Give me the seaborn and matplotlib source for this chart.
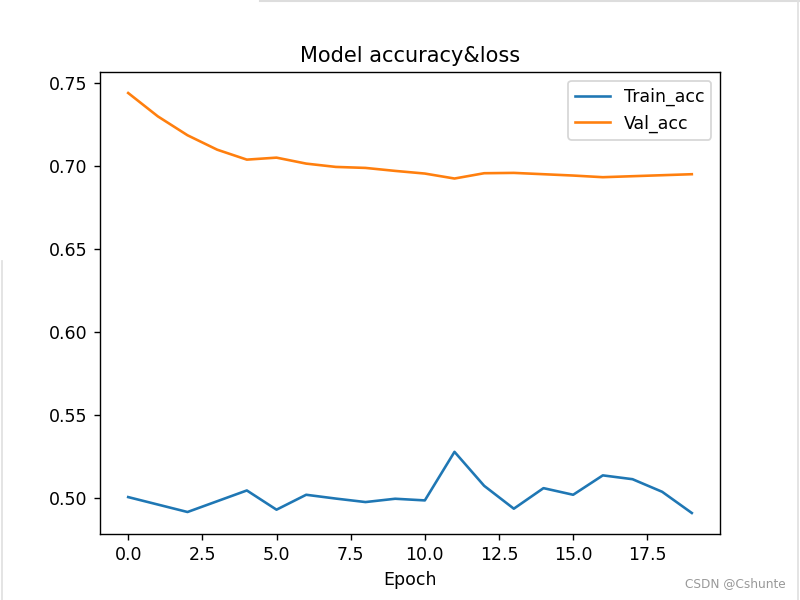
import numpy as np
import pandas as pd
import seaborn as sns
import matplotlib
matplotlib.use("Agg")
import matplotlib.pyplot as plt
from matplotlib.lines import Line2D

# Values
epochs = list(range(20))
train_acc = [0.5004, 0.4959, 0.4914, 0.4979, 0.5044, 0.4928, 0.5018, 0.4995, 0.4974, 0.4994,
             0.4984, 0.5277, 0.5072, 0.4934, 0.5058, 0.5018, 0.5135, 0.5112, 0.5036, 0.4908]
val_acc = [0.7442, 0.7301, 0.7187, 0.7100, 0.7040, 0.7052, 0.7016, 0.6996, 0.6990, 0.6972,
           0.6956, 0.6926, 0.6958, 0.6960, 0.6952, 0.6944, 0.6934, 0.6940, 0.6946, 0.6952]

df = pd.DataFrame({"epoch": epochs, "Train_acc": train_acc, "Val_acc": val_acc})

fig, ax = plt.subplots(figsize=(6.4, 4.8), dpi=125)
sns.lineplot(data=df, x="epoch", y="Train_acc", ax=ax, color="#1f77b4", label="Train_acc")
sns.lineplot(data=df, x="epoch", y="Val_acc", ax=ax, color="#ff7f0e", label="Val_acc")

ax.set_title("Model accuracy&loss")
ax.set_xlabel("Epoch")
ax.set_ylabel("")
ax.legend(loc="upper right")

# screenshot borders and watermark
fig.add_artist(Line2D([0.325, 1.0], [0.999, 0.999], transform=fig.transFigure,
                      color="#dddddd", linewidth=1.2))
fig.add_artist(Line2D([0.998, 0.998], [0.0, 1.0], transform=fig.transFigure,
                      color="#e0e0e0", linewidth=1.0))
fig.add_artist(Line2D([0.003, 0.003], [0.0, 0.565], transform=fig.transFigure,
                      color="#e0e0e0", linewidth=1.0))
fig.text(0.982, 0.017, "CSDN @Cshunte", ha="right", va="bottom",
         fontsize=7, color="#999999")

plt.savefig("out.png", dpi=125)
